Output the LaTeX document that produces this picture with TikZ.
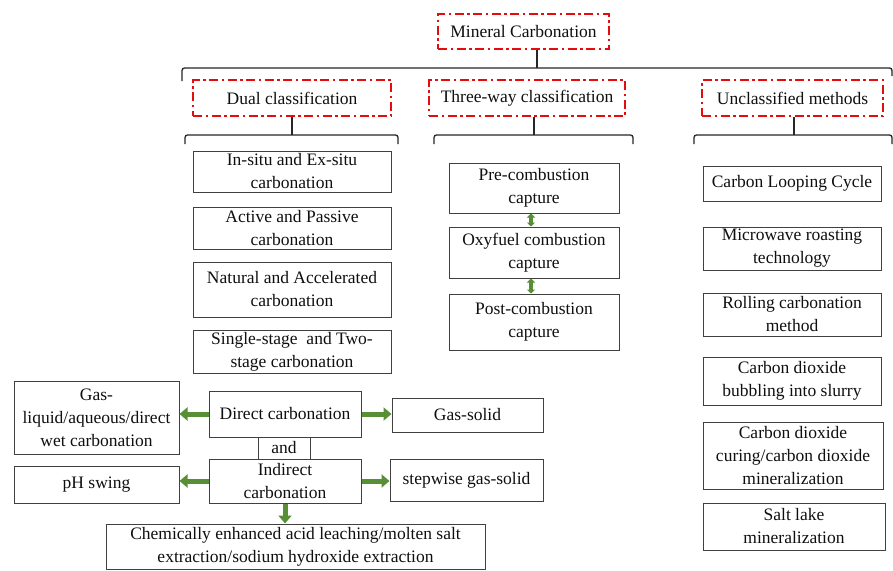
\documentclass[tikz,border=0pt]{standalone}
\usepackage{fontspec}
\setmainfont{Liberation Serif}
\usetikzlibrary{arrows.meta}
\definecolor{redd}{RGB}{228,12,12}
\definecolor{garr}{RGB}{88,142,54}
\definecolor{boxc}{RGB}{64,64,64}
\definecolor{txt}{RGB}{15,15,15}
\tikzset{
 base/.style={inner sep=0pt, align=center, text=txt, font=\fontsize{17.5}{23}\selectfont},
 rbox/.style={base, draw=redd, line width=2pt, dash pattern=on 9pt off 3.5pt on 2.5pt off 3.5pt},
 wbox/.style={base, draw=boxc, line width=1pt},
 brk/.style={draw=black!85, line width=1.3pt, rounded corners=2.5pt},
 garrow/.style={draw=garr, line width=5pt, -{Triangle[length=8pt,width=13pt]}},
 gdouble/.style={draw=garr, line width=3.5pt, {Triangle[length=4pt,width=8pt]}-{Triangle[length=4pt,width=8pt]}},
}
\begin{document}
\begin{tikzpicture}[x=1pt,y=-1pt]
\useasboundingbox (0,0) rectangle (893,570);
\fill[white] (0,0) rectangle (893,570);

% top level
\node[rbox, minimum width=171pt, minimum height=35pt] (mc) at (523.5,31.5) {Mineral Carbonation};
\node[rbox, minimum width=198pt, minimum height=36pt] (dual) at (292,98) {Dual classification};
\node[rbox, minimum width=196pt, minimum height=36pt] (three) at (527,98) {Three-way classification};
\node[rbox, minimum width=181pt, minimum height=36pt] (uncl) at (792.5,98) {Unclassified methods};

% brackets
\coordinate (t1) at (537,68);
\draw[brk] (182,81) -- (182,68) -- (892,68) -- (892,76);
\draw[brk] (mc.south -| t1) -- (t1);

\coordinate (d1) at (292,135);
\draw[brk] (185,144) -- (185,135) -- (398,135) -- (398,144);
\draw[brk] (dual.south) -- (d1);

\coordinate (h1) at (534,135);
\draw[brk] (434,144) -- (434,135) -- (633,135) -- (633,144);
\draw[brk] (three.south -| h1) -- (h1);

\coordinate (u1) at (794,135);
\draw[brk] (694,144) -- (694,135) -- (892,135) -- (892,144);
\draw[brk] (uncl.south -| u1) -- (u1);

% left column
\node[wbox, minimum width=198pt, minimum height=41pt] (insitu) at (292,171.5) {In-situ and Ex-situ\\carbonation};
\node[wbox, minimum width=198pt, minimum height=42pt] (active) at (292,228) {Active and Passive\\carbonation};
\node[wbox, minimum width=198pt, minimum height=55pt] (natural) at (292,289.5) {Natural and Accelerated\\carbonation};
\node[wbox, minimum width=198pt, minimum height=43pt] (single) at (292,351.5) {Single-stage\ \ and Two-\\stage carbonation};

% middle column
\node[wbox, minimum width=170pt, minimum height=50pt] (pre) at (534,188) {Pre-combustion\\capture};
\node[wbox, minimum width=170pt, minimum height=51pt] (oxy) at (534,252.5) {Oxyfuel combustion\\capture};
\node[wbox, minimum width=170pt, minimum height=56pt] (post) at (534,322) {Post-combustion\\capture};
\draw[gdouble] ([xshift=-3pt]pre.south) -- ([xshift=-3pt]oxy.north);
\draw[gdouble] ([xshift=-3pt]oxy.south) -- ([xshift=-3pt]post.north);

% right column
\node[wbox, minimum width=178pt, minimum height=35pt] (clc) at (792,183.5) {Carbon Looping Cycle};
\node[wbox, minimum width=178pt, minimum height=43pt] (micro) at (792,248.5) {Microwave roasting\\technology};
\node[wbox, minimum width=178pt, minimum height=43pt] (roll) at (792,314.5) {Rolling\ carbonation\\method};
\node[wbox, minimum width=178pt, minimum height=48pt] (bubb) at (792,381) {Carbon dioxide\\bubbling into slurry};
\node[wbox, minimum width=180pt, minimum height=67pt] (cure) at (793,455.5) {Carbon dioxide\\curing/carbon dioxide\\mineralization};
\node[wbox, minimum width=182pt, minimum height=47pt] (salt) at (794,526.5) {Salt lake\\mineralization};

% bottom part
\node[wbox, minimum width=165pt, minimum height=73pt] (gl) at (96.5,417.5) {Gas-\\liquid/aqueous/direct\\wet carbonation};
\node[wbox, minimum width=152pt, minimum height=46pt] (direct) at (285,414) {Direct carbonation};
\node[wbox, minimum width=151pt, minimum height=34pt] (gs) at (467.5,415) {Gas-solid};
\node[wbox, minimum width=52pt, minimum height=22pt] (andb) at (284,448) {and};
\node[wbox, minimum width=152pt, minimum height=44pt] (indirect) at (285,481) {Indirect\\carbonation};
\node[wbox, minimum width=165pt, minimum height=37pt] (ph) at (96.5,484.5) {pH swing};
\node[wbox, minimum width=153pt, minimum height=42pt] (step) at (466.5,480) {stepwise gas-solid};
\node[wbox, minimum width=379pt, minimum height=45pt] (chem) at (295.5,546.5) {Chemically\ enhanced acid leaching/molten\ salt\\extraction/sodium hydroxide extraction};

\draw[garrow] (direct.west) -- (direct.west -| gl.east);
\draw[garrow] (direct.east) -- (direct.east -| gs.west);
\draw[garrow] (indirect.west) -- (indirect.west -| ph.east);
\draw[garrow] (indirect.east) -- (indirect.east -| step.west);
\draw[garrow] (indirect.south) -- (indirect.south |- chem.north);
\end{tikzpicture}
\end{document}
